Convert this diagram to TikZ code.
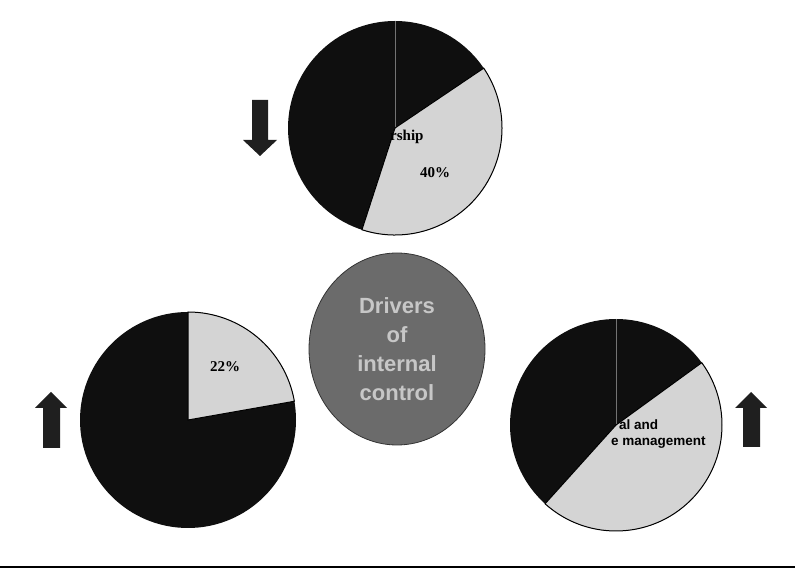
\documentclass[tikz,border=0pt]{standalone}
\usepackage{fontspec}
\usetikzlibrary{shapes.geometric}
\setmainfont{Liberation Serif}
\setsansfont{Liberation Sans}
\begin{document}
\begin{tikzpicture}[x=1pt,y=1pt,
  darkslice/.style={fill=black!94},
  lightslice/.style={fill=black!17, draw=black, line width=1pt},
  thinsplit/.style={draw=black!55, line width=0.6pt},
  bigarrow/.style={fill=black!88},
  pielabel/.style={font=\bfseries\fontsize{15}{17}\selectfont, inner sep=0pt},
  sidelabel/.style={font=\sffamily\bfseries\fontsize{13.5}{16}\selectfont, inner sep=0pt},
  hub/.style={ellipse, fill=black!58, draw=black!80, line width=0.8pt,
    minimum width=176pt, minimum height=192pt, inner sep=0pt,
    text=black!22, align=center,
    font=\sffamily\bfseries\fontsize{22}{29}\selectfont}]
\useasboundingbox (0,0) rectangle (795,570);

% centres of the three pies
\coordinate (ptop) at (395,442);
\coordinate (pleft) at (188,150);
\coordinate (pright) at (616,145);

% top pie (40%)
\fill[darkslice] (ptop) circle (107);
\draw[thinsplit] (ptop) -- ++(90:107);
\filldraw[lightslice] (ptop) -- ++(-108:107) arc (-108:34:107) -- cycle;
\node[pielabel, anchor=west] (lead) at (390,433) {rship};
\node[pielabel] (ptopv) at (435,397) {40\%};

% left pie (22%)
\fill[darkslice] (pleft) circle (108);
\filldraw[lightslice] (pleft) -- ++(10:108) arc (10:90:108) -- cycle;
\node[pielabel] (pleftv) at (225,203) {22\%};

% right pie
\fill[darkslice] (pright) circle (106);
\draw[thinsplit] (pright) -- ++(90:106);
\filldraw[lightslice] (pright) -- ++(-132:106) arc (-132:36:106) -- cycle;
\node[sidelabel, anchor=west] (fin1) at (619,145) {al and};
\node[sidelabel, anchor=west] (fin2) at (611,127) {e management};

% hub in the middle
\node[hub] (hubc) at (397,221) {Drivers\\of\\internal\\control};

% trend arrows
\fill[bigarrow] (252,470) -- (268,470) -- (268,430) -- (277,430) -- (260,414)
  -- (243,430) -- (252,430) -- cycle;
\fill[bigarrow] (43,122) -- (60,122) -- (60,162) -- (67,162) -- (51,178)
  -- (35,162) -- (43,162) -- cycle;
\fill[bigarrow] (743,123) -- (760,123) -- (760,162) -- (767,162) -- (751,178)
  -- (735,162) -- (743,162) -- cycle;

% rule under the figure
\coordinate (ruleL) at (0,3);
\coordinate (ruleR) at (795,3);
\draw[line width=2pt] (ruleL) -- (ruleR);
\end{tikzpicture}
\end{document}
